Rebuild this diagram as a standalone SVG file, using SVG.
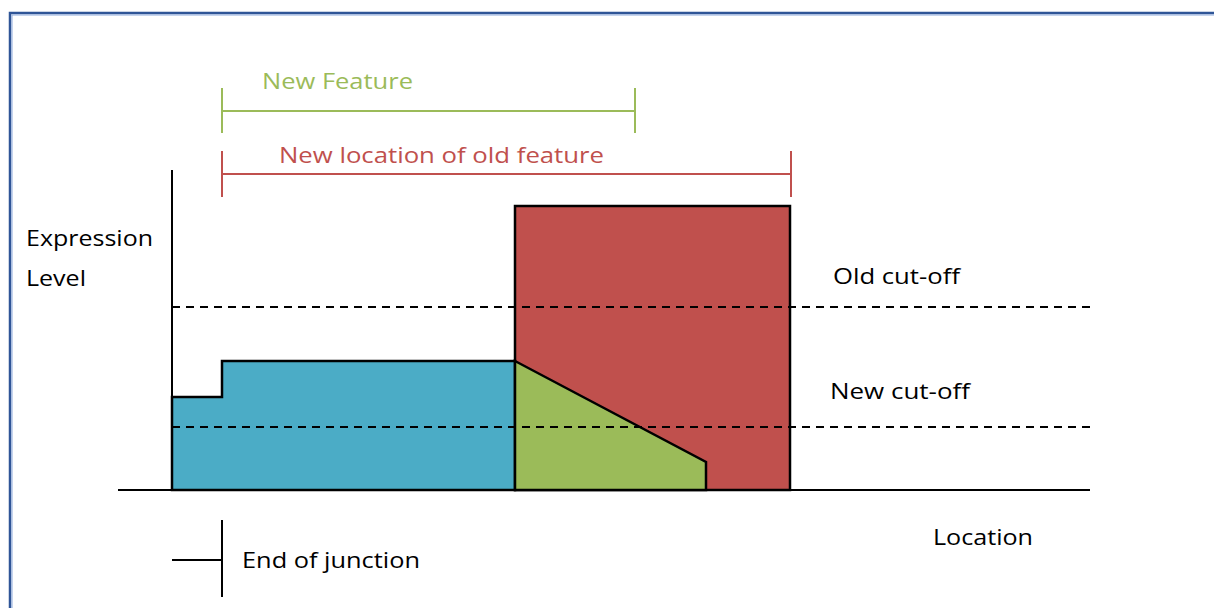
<svg xmlns="http://www.w3.org/2000/svg" width="1214" height="608" viewBox="0 0 1214 608">
<style>
.t{font-family:"Open Sans","Liberation Sans",Arial,sans-serif;font-size:22px;fill:#000}
.ax{stroke:#000;stroke-width:2;fill:none}
.dash{stroke:#000;stroke-width:2;stroke-dasharray:8 6;fill:none}
.shape{stroke:#000;stroke-width:2.5;stroke-linejoin:miter}
</style>
<rect width="1214" height="608" fill="#fff"/>
<g id="frame">
<path d="M10,608 V13 H1214" fill="none" stroke="#2f5597" stroke-width="2.5"/>
<path d="M12,608 V15 H1214" fill="none" stroke="#8eaadb" stroke-width="1"/>
</g>
<g id="bars">
<rect id="red-bar" class="shape" x="515" y="206" width="275" height="284" fill="#c0504d"/>
<polygon id="blue-bar" class="shape" points="172,397 222,397 222,361 515,361 515,490 172,490" fill="#4bacc6"/>
<polygon id="green-bar" class="shape" points="515,361 706,462 706,490 515,490" fill="#9bbb59"/>
</g>
<g id="connectors">
<line class="ax" x1="172" y1="170" x2="172" y2="490"/>
<line class="ax" x1="118" y1="490" x2="1090" y2="490"/>
<line class="dash" x1="172" y1="307" x2="1090" y2="307"/>
<line class="dash" x1="172" y1="427" x2="1090" y2="427"/>
<g stroke="#9bbb59" stroke-width="2" fill="none">
<line x1="222" y1="111" x2="635" y2="111"/>
<line x1="222" y1="88" x2="222" y2="133"/>
<line x1="635" y1="88" x2="635" y2="133"/>
</g>
<g stroke="#c0504d" stroke-width="2" fill="none">
<line x1="222" y1="174" x2="791" y2="174"/>
<line x1="222" y1="151" x2="222" y2="197"/>
<line x1="791" y1="151" x2="791" y2="197"/>
</g>
<g stroke="#000" stroke-width="2" fill="none">
<line x1="172" y1="560" x2="222" y2="560"/>
<line x1="222" y1="520" x2="222" y2="597"/>
</g>
</g>
<g id="labels">
<text class="t" x="262" y="89" style="fill:#9bbb59" textLength="151" lengthAdjust="spacingAndGlyphs">New Feature</text>
<text class="t" x="279" y="163" style="fill:#c0504d" textLength="325" lengthAdjust="spacingAndGlyphs">New location of old feature</text>
<text class="t" x="26" y="246" textLength="127" lengthAdjust="spacingAndGlyphs">Expression</text>
<text class="t" x="26" y="286" textLength="60" lengthAdjust="spacingAndGlyphs">Level</text>
<text class="t" x="833" y="284" textLength="127" lengthAdjust="spacingAndGlyphs">Old cut-off</text>
<text class="t" x="830" y="399" textLength="140" lengthAdjust="spacingAndGlyphs">New cut-off</text>
<text class="t" x="933" y="545" textLength="100" lengthAdjust="spacingAndGlyphs">Location</text>
<text class="t" x="242" y="568" textLength="178" lengthAdjust="spacingAndGlyphs">End of junction</text>
</g>
</svg>
